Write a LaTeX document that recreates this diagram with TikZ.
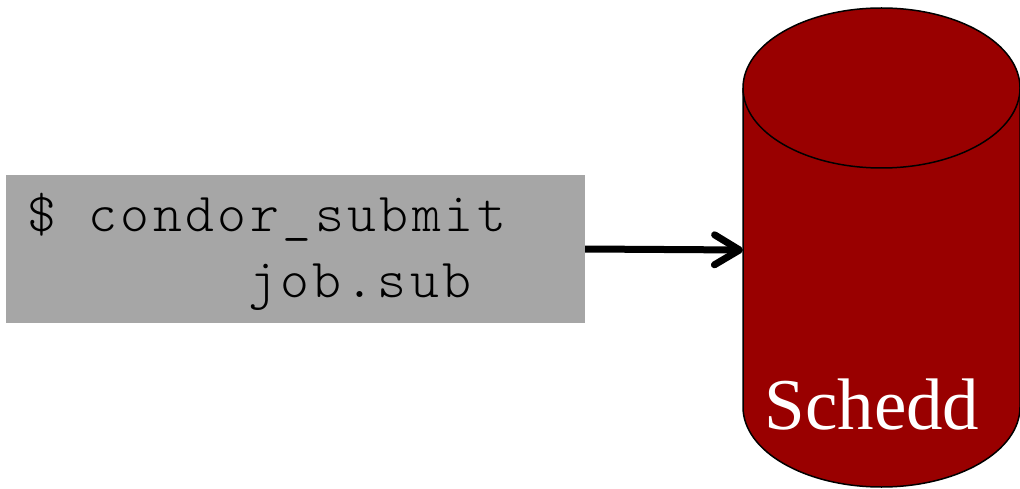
\documentclass[tikz,border=0pt]{standalone}
\usepackage{fontspec}
\setmainfont{Liberation Serif}
\newfontfamily\cmdfont[LetterSpace=6.4]{Latin Modern Mono Light}
\usetikzlibrary{arrows.meta}
\definecolor{shellgray}{HTML}{A6A6A6}
\definecolor{scheddred}{HTML}{990000}
\begin{document}
\begin{tikzpicture}[x=1pt,y=-1pt,
  shellbox/.style={fill=shellgray, draw=none, minimum width=579pt, minimum height=148pt, inner sep=0pt},
  shelltext/.style={font=\cmdfont\fontsize{55}{65}\selectfont, inner sep=0pt, anchor=base west},
  drum/.style={fill=scheddred, draw=black, line width=1.5pt},
  drumlabel/.style={font=\fontsize{73}{80}\selectfont, text=white, inner sep=0pt, anchor=base},
  flow/.style={line width=7pt, -{Straight Barb[round, length=25pt, width=30pt]}}
]
\useasboundingbox (0,0) rectangle (1020,489);

% shell command box
\node[shellbox] (cmd) at (295.5,249) {};
\node[shelltext] (line1) at (27,232) {\$ condor\_submit};
\node[shelltext] (line2) at (248,297) {job.sub};

% schedd drum
\fill[scheddred] (743,88) -- (743,407)
  arc[start angle=180, end angle=0, x radius=138.5, y radius=80] -- (1020,88) -- cycle;
\draw[line width=1.5pt] (743,88) -- (743,407)
  arc[start angle=180, end angle=0, x radius=138.5, y radius=80] -- (1020,88);
\draw[drum] (881.5,88) ellipse[x radius=138.5, y radius=80];
\coordinate (schedd-in) at (743,250);
\node[drumlabel] (schedd) at (872,429) {Schedd};

% submission arrow
\draw[flow] (cmd.east) -- (schedd-in);
\end{tikzpicture}
\end{document}
